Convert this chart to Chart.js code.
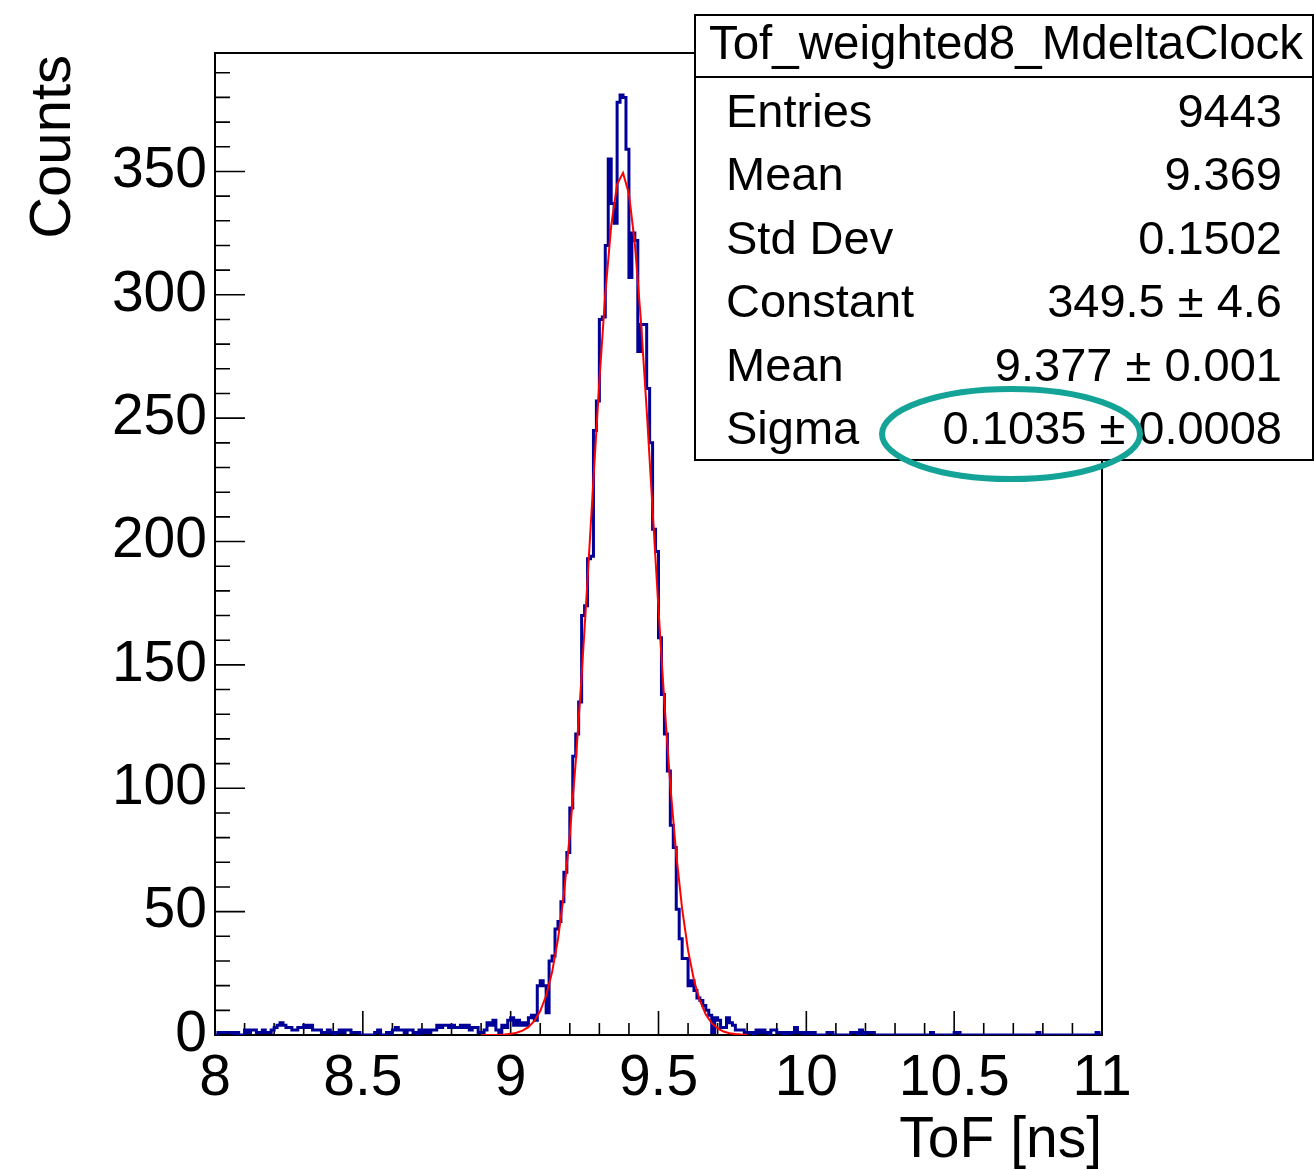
<!DOCTYPE html>
<html>
<head>
<meta charset="utf-8">
<script src="https://cdn.jsdelivr.net/npm/chart.js@4.4.1/dist/chart.umd.min.js"></script>
<style>
  html, body { margin: 0; padding: 0; background: #fff; }
  canvas { display: block; }
</style>
</head>
<body>
<canvas id="tof" width="1314" height="1170"></canvas>
<script>
// histogram binning (ns)
const BIN_LOW = 8;
const BIN_WIDTH = 0.01;

// counts per bin, 8.00 .. 10.99
const COUNTS = [
  0, 1, 1, 1, 1, 1, 0, 1, 0, 0,
  2, 1, 2, 2, 1, 1, 2, 1, 1, 2,
  3, 4, 5, 4, 3, 3, 2, 2, 3, 3,
  4, 3, 4, 2, 2, 2, 1, 1, 2, 1,
  0, 1, 2, 1, 2, 2, 1, 1, 1, 0,
  0, 0, 0, 0, 1, 2, 0, 0, 1, 0,
  2, 3, 2, 2, 1, 2, 2, 1, 0, 2,
  1, 2, 1, 2, 2, 4, 3, 4, 4, 3,
  4, 3, 3, 4, 3, 4, 2, 3, 3, 1,
  1, 2, 5, 4, 6, 2, 1, 4, 3, 6,
  7, 4, 6, 4, 5, 4, 7, 8, 6, 20,
  22, 20, 9, 30, 32, 43, 46, 54, 66, 74,
  92, 113, 122, 135, 170, 174, 193, 194, 245, 257,
  290, 291, 320, 355, 337, 329, 378, 381, 380, 359,
  307, 325, 322, 277, 288, 288, 262, 240, 205, 196,
  161, 138, 122, 107, 85, 76, 51, 39, 31, 31,
  20, 22, 18, 15, 14, 12, 10, 8, 1, 7,
  6, 3, 3, 7, 5, 4, 2, 2, 2, 1,
  1, 1, 0, 2, 1, 2, 1, 0, 2, 2,
  1, 1, 0, 1, 0, 1, 3, 1, 1, 0,
  1, 0, 1, 0, 0, 0, 0, 1, 1, 0,
  0, 0, 0, 0, 0, 1, 1, 0, 2, 0,
  1, 1, 1, 0, 0, 0, 0, 0, 0, 0,
  0, 0, 0, 0, 0, 0, 0, 0, 0, 0,
  0, 0, 1, 0, 0, 0, 0, 0, 0, 0,
  1, 1, 0, 0, 0, 0, 0, 0, 0, 0,
  0, 0, 0, 0, 0, 0, 0, 0, 0, 0,
  0, 0, 0, 0, 0, 0, 0, 0, 1, 0,
  0, 0, 0, 0, 0, 0, 0, 0, 0, 0,
  0, 0, 0, 0, 0, 0, 0, 0, 1, 0
];

// gaussian fit curve
const FIT_X = [
  8.90, 8.92, 8.94, 8.96, 8.98, 9.00, 9.02, 9.04, 9.06, 9.08,
  9.10, 9.12, 9.14, 9.16, 9.18, 9.20, 9.22, 9.24, 9.26, 9.28,
  9.30, 9.32, 9.34, 9.36, 9.38, 9.40, 9.42, 9.44, 9.46, 9.48,
  9.50, 9.52, 9.54, 9.56, 9.58, 9.60, 9.62, 9.64, 9.66, 9.68,
  9.70, 9.72, 9.74, 9.76, 9.78, 9.80
];
const FIT_Y = [
  0.01, 0.02, 0.05, 0.1, 0.22, 0.46, 0.91, 1.74, 3.2, 5.7,
  9.7, 16.0, 25.4, 38.8, 57.1, 81.0, 110.6, 145.5, 184.5, 225.3,
  265.0, 300.3, 327.9, 344.8, 349.4, 341.0, 320.6, 290.4, 253.4, 213.0,
  172.5, 134.6, 101.1, 73.2, 51.1, 34.3, 22.2, 13.9, 8.3, 4.8,
  2.7, 1.4, 0.75, 0.37, 0.18, 0.08
];

const X_TICKS = [8, 8.5, 9, 9.5, 10, 10.5, 11];
const Y_TICKS = [0, 50, 100, 150, 200, 250, 300, 350];

const STATS_TITLE = 'Tof_weighted8_MdeltaClock';
const STATS_LABELS = ['Entries', 'Mean', 'Std Dev', 'Constant', 'Mean', 'Sigma'];
const STATS_VALUES = ['9443', '9.369', '0.1502', '349.5 \u00b1 4.6', '9.377 \u00b1 0.001', '0.1035 \u00b1 0.0008'];

const FONT = '"Liberation Sans", Arial, Helvetica, sans-serif';

const histPoints = COUNTS.map((c, i) => ({ x: BIN_LOW + i * BIN_WIDTH, y: c }));
histPoints.push({ x: BIN_LOW + COUNTS.length * BIN_WIDTH, y: COUNTS[COUNTS.length - 1] });
const fitPoints = FIT_X.map((x, i) => ({ x: x, y: FIT_Y[i] }));

// ROOT style frame with ticks pointing inwards
const rootFrame = {
  id: 'rootFrame',
  beforeDatasetsDraw(chart) {
    const { ctx, chartArea: a, scales: { x, y } } = chart;
    ctx.save();
    ctx.strokeStyle = '#000';
    ctx.lineWidth = 2;
    ctx.strokeRect(a.left, a.top, a.right - a.left, a.bottom - a.top);
    ctx.lineWidth = 1.6;
    ctx.beginPath();
    for (let i = 0; i <= 30; i++) {
      const px = x.getPixelForValue(8 + i / 10);
      const len = i % 5 === 0 ? 24 : 12;
      ctx.moveTo(px, a.bottom);
      ctx.lineTo(px, a.bottom - len);
    }
    for (let i = 0; i <= 39; i++) {
      const py = y.getPixelForValue(i * 10);
      const len = i % 5 === 0 ? 30 : 15;
      ctx.moveTo(a.left, py);
      ctx.lineTo(a.left + len, py);
    }
    ctx.stroke();
    ctx.restore();
  }
};

// axis titles, stats box and the hand drawn ellipse
const overlay = {
  id: 'overlay',
  afterDraw(chart) {
    const { ctx, chartArea: a } = chart;
    ctx.save();
    ctx.fillStyle = '#000';

    ctx.font = '57px ' + FONT;
    ctx.textAlign = 'right';
    ctx.textBaseline = 'alphabetic';
    ctx.fillText('ToF [ns]', a.right, 1157);

    ctx.save();
    ctx.translate(70, 55);
    ctx.rotate(-Math.PI / 2);
    ctx.font = '58px ' + FONT;
    ctx.textAlign = 'right';
    ctx.fillText('Counts', 0, 0);
    ctx.restore();

    // stats box
    const bx = 695, by = 15, bw = 618, bh = 445;
    ctx.fillStyle = '#fff';
    ctx.fillRect(bx, by, bw, bh);
    ctx.strokeStyle = '#000';
    ctx.lineWidth = 2;
    ctx.strokeRect(bx, by, bw, bh);
    ctx.beginPath();
    ctx.moveTo(bx, 77);
    ctx.lineTo(bx + bw, 77);
    ctx.stroke();

    ctx.fillStyle = '#000';
    ctx.font = '47.5px ' + FONT;
    ctx.textAlign = 'center';
    ctx.fillText(STATS_TITLE, bx + bw / 2 + 2, 59);
    ctx.font = '47px ' + FONT;
    STATS_LABELS.forEach((lab, i) => {
      const yy = 127 + i * 63.4;
      ctx.textAlign = 'left';
      ctx.fillText(lab, 726, yy);
      ctx.textAlign = 'right';
      ctx.fillText(STATS_VALUES[i], 1282, yy);
    });

    ctx.strokeStyle = '#13a397';
    ctx.lineWidth = 6;
    ctx.beginPath();
    ctx.ellipse(1011, 434, 129, 45, 0, 0, Math.PI * 2);
    ctx.stroke();
    ctx.restore();
  }
};

new Chart(document.getElementById('tof'), {
  type: 'line',
  data: {
    datasets: [
      {
        label: 'fit',
        data: fitPoints,
        borderColor: '#ff0000',
        borderWidth: 2,
        pointRadius: 0,
        fill: false,
        tension: 0,
        order: 0
      },
      {
        label: 'Tof_weighted8_MdeltaClock',
        data: histPoints,
        borderColor: '#000099',
        borderWidth: 3,
        pointRadius: 0,
        fill: false,
        stepped: 'before',
        order: 1
      }
    ]
  },
  options: {
    responsive: false,
    devicePixelRatio: 1,
    animation: false,
    layout: { padding: { top: 53, right: 212, left: 0, bottom: 0 } },
    plugins: {
      legend: { display: false },
      tooltip: { enabled: false },
      title: { display: false }
    },
    scales: {
      x: {
        type: 'linear',
        min: 8,
        max: 11,
        afterBuildTicks: s => { s.ticks = X_TICKS.map(v => ({ value: v })); },
        afterFit: s => { s.height = 135; },
        grid: { display: false, drawTicks: false },
        border: { display: false },
        ticks: {
          color: '#000',
          font: { size: 57, family: FONT },
          padding: 10,
          maxRotation: 0,
          autoSkip: false,
          callback: v => String(v)
        }
      },
      y: {
        type: 'linear',
        min: 0,
        max: 398,
        afterBuildTicks: s => { s.ticks = Y_TICKS.map(v => ({ value: v })); },
        afterFit: s => { s.width = 215; },
        grid: { display: false, drawTicks: false },
        border: { display: false },
        ticks: {
          color: '#000',
          font: { size: 57, family: FONT },
          padding: 8,
          autoSkip: false,
          callback: v => String(v)
        }
      }
    }
  },
  plugins: [rootFrame, overlay]
});
</script>
</body>
</html>
